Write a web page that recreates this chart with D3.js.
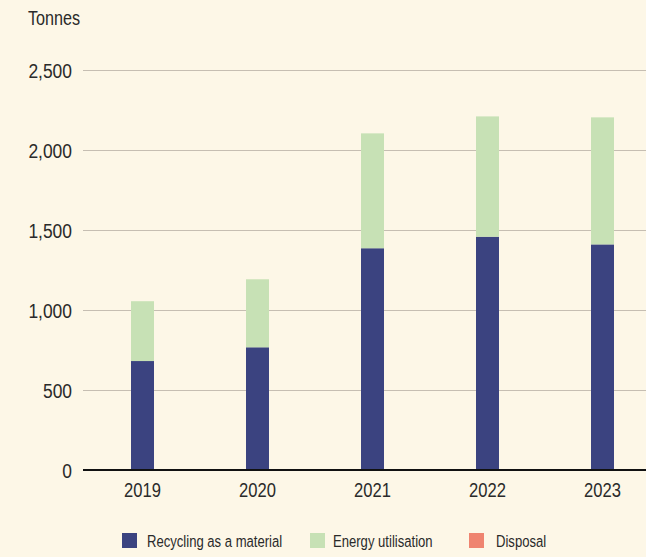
<!DOCTYPE html>
<html>
<head>
<meta charset="utf-8">
<script src="https://cdn.jsdelivr.net/npm/d3@7"></script>
<style>
  html, body { margin: 0; padding: 0; background: #fdf7e7; }
  svg { display: block; }
  text { font-family: "Liberation Sans", Arial, sans-serif; fill: #2a2a2a; }
</style>
</head>
<body>
<svg id="chart" width="646" height="557"></svg>
<script>
// Waste volumes by treatment route, in tonnes
const years = ["2019", "2020", "2021", "2022", "2023"];
const recycling = [681, 767, 1386, 1458, 1410];
const energy = [374, 425, 718, 752, 794];
const disposal = [0, 0, 0, 0, 0];
const yTicks = [0, 500, 1000, 1500, 2000, 2500];
const seriesNames = ["Recycling as a material", "Energy utilisation", "Disposal"];
const seriesColors = ["#3b4380", "#c7e1b5", "#ef8470"];

const W = 646, H = 557;
const svg = d3.select("#chart");

const margin = { left: 83, right: 0, top: 70, bottom: 87 };
const y = d3.scaleLinear().domain([0, 2500]).range([H - margin.bottom, margin.top]);
const x = d3.scaleBand().domain(years).range([85, 660]).paddingInner(0.8).paddingOuter(0.4);

// condensed lettering: draw text horizontally compressed around its anchor
function condensed(sel, px, py, sx) {
  sel.attr("x", null).attr("y", null)
    .attr("transform", (d, i, n) => `translate(${px(d, i, n)},${py(d, i, n)}) scale(${sx},1)`);
}

const rows = years.map((yr, i) => ({
  year: yr,
  "Recycling as a material": recycling[i],
  "Energy utilisation": energy[i],
  "Disposal": disposal[i]
}));
const stacked = d3.stack().keys(seriesNames)(rows);

// horizontal gridlines and value labels
const yAxis = d3.axisLeft(y).tickValues(yTicks)
  .tickSize(-(W - margin.left))
  .tickFormat(d3.format(","));
const gy = svg.append("g").attr("transform", `translate(${margin.left},0)`).call(yAxis);
gy.select(".domain").remove();
gy.selectAll(".tick line").attr("stroke", "#c6beb2").attr("stroke-width", 1);
gy.selectAll(".tick text").attr("font-size", 21).attr("dy", null)
  .call(condensed, () => -11, () => 7.5, 0.83);

svg.append("text").attr("font-size", 21).attr("text-anchor", "start")
  .text("Tonnes").call(condensed, () => 28, () => 25, 0.77);

// stacked bars
const cx = d => x(d) + x.bandwidth() / 2;
const barW = 23;
svg.append("g").selectAll("g").data(stacked).join("g")
  .attr("fill", (d, i) => seriesColors[i])
  .selectAll("rect").data(d => d).join("rect")
  .attr("x", d => cx(d.data.year) - barW / 2)
  .attr("width", barW)
  .attr("y", d => y(d[1]))
  .attr("height", d => y(d[0]) - y(d[1]));

// baseline
svg.append("line").attr("x1", margin.left).attr("x2", W)
  .attr("y1", y(0)).attr("y2", y(0)).attr("stroke", "#111").attr("stroke-width", 2);

// year labels
svg.append("g").selectAll("text").data(years).join("text")
  .attr("text-anchor", "middle").attr("font-size", 21)
  .text(d => d)
  .call(condensed, d => cx(d), () => y(0) + 26.5, 0.79);

// legend
const legendX = [122, 310, 469];
const legendTextX = [147, 333, 496];
const lg = svg.append("g").selectAll("g").data(seriesNames).join("g");
lg.append("rect").attr("x", (d, i) => legendX[i]).attr("y", 533)
  .attr("width", 15).attr("height", 15).attr("fill", (d, i) => seriesColors[i]);
lg.append("text").attr("font-size", 17).text(d => d)
  .call(condensed, (d, i) => legendTextX[i], () => 546.5, 0.77);
</script>
</body>
</html>
